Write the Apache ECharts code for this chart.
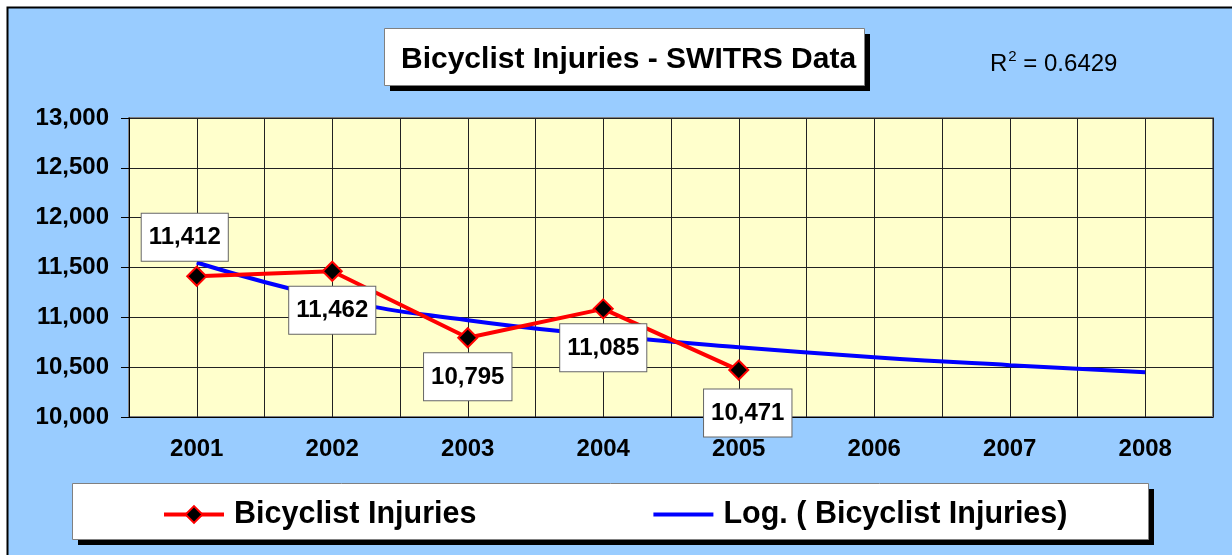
<!DOCTYPE html>
<html>
<head>
<meta charset="utf-8">
<title>Bicyclist Injuries - SWITRS Data</title>
<script src="https://cdn.jsdelivr.net/npm/echarts@6/dist/echarts.min.js"></script>
<style>
  html, body { margin: 0; padding: 0; background: #fff; }
  #chart { width: 1232px; height: 555px; }
</style>
</head>
<body>
<div id="chart"></div>
<script>
var years = ['2001', '2002', '2003', '2004', '2005', '2006', '2007', '2008']
var injuries = [11412, 11462, 10795, 11085, 10471]
// logarithmic trend line, values at each year
var logTrend = [11550, 11190, 10970, 10820, 10700, 10600, 10520, 10450]
var yTicks = { min: 10000, max: 13000, step: 500 }
var rSquared = '0.6429'

var font = '"Liberation Sans", Arial, sans-serif'

function fmt(v) {
  return String(v).replace(/\B(?=(\d{3})+(?!\d))/g, ',')
}

var chart = echarts.init(document.getElementById('chart'))

chart.setOption({
  backgroundColor: '#fff',
  animation: false,
  textStyle: { fontFamily: font },
  graphic: [
    // outer chart area
    { type: 'rect', z: -10, shape: { x: 7.5, y: 7.5, width: 1300, height: 600 },
      style: { fill: '#99ccff', stroke: '#000', lineWidth: 2 } },
    // title box + shadow
    { type: 'rect', z: 1, shape: { x: 390, y: 34, width: 480, height: 57 }, style: { fill: '#000' } },
    { type: 'rect', z: 2, shape: { x: 384.5, y: 28.5, width: 480, height: 57 },
      style: { fill: '#fff', stroke: '#808080', lineWidth: 1 } },
    // legend box + shadow
    { type: 'rect', z: 1, shape: { x: 78, y: 489, width: 1076, height: 56 }, style: { fill: '#000' } },
    { type: 'rect', z: 2, shape: { x: 72.5, y: 483.5, width: 1076, height: 56 },
      style: { fill: '#fff', stroke: '#808080', lineWidth: 1 } }
  ],
  title: [
    {
      text: 'Bicyclist Injuries - SWITRS Data',
      left: 396,
      top: 40,
      textStyle: { fontSize: 30, fontWeight: 'bold', color: '#000', fontFamily: font }
    },
    {
      text: '{a|R}{b|2}{a| = ' + rSquared + '}',
      left: 985,
      top: 44,
      textStyle: {
        rich: {
          a: { fontSize: 24, fontWeight: 'normal', color: '#000', fontFamily: font, verticalAlign: 'bottom' },
          b: { fontSize: 15, fontWeight: 'normal', color: '#000', fontFamily: font, verticalAlign: 'top', padding: [0, 0, 12, 1] }
        }
      }
    }
  ],
  legend: {
    left: 162,
    top: 499,
    padding: 0,
    itemWidth: 60,
    itemHeight: 21,
    itemGap: 177,
    lineStyle: { width: 4 },
    data: [
      { name: 'Bicyclist Injuries' },
      { name: 'Log. ( Bicyclist Injuries)', icon: 'path://M0,0H60V4H0Z' }
    ],
    textStyle: { fontSize: 30.5, fontWeight: 'bold', color: '#000', fontFamily: font, padding: [0, 0, 0, 5] }
  },
  grid: {
    left: 129,
    right: 19,
    top: 118,
    bottom: 138,
    show: true,
    backgroundColor: '#ffffcc',
    borderColor: '#808080',
    borderWidth: 2
  },
  xAxis: [
    {
      type: 'category',
      data: years,
      boundaryGap: true,
      axisLine: { lineStyle: { color: '#000', width: 1 } },
      axisTick: { length: 8, lineStyle: { color: '#000' } },
      axisLabel: { margin: 20, fontSize: 24, fontWeight: 'bold', color: '#000', fontFamily: font },
      splitLine: { show: false }
    },
    {
      // only draws the vertical gridlines (category centres and boundaries)
      type: 'value',
      position: 'top',
      min: 0,
      max: years.length * 2,
      interval: 1,
      axisLine: { show: false },
      axisTick: { show: false },
      axisLabel: { show: false },
      splitLine: { show: true, lineStyle: { color: '#222', width: 1 } }
    }
  ],
  yAxis: {
    type: 'value',
    min: yTicks.min,
    max: yTicks.max,
    interval: yTicks.step,
    axisLine: { show: true, lineStyle: { color: '#000', width: 1 } },
    axisTick: { show: true, length: 8, lineStyle: { color: '#000' } },
    axisLabel: {
      margin: 20,
      fontSize: 24,
      fontWeight: 'bold',
      color: '#000',
      fontFamily: font,
      formatter: function (v) { return fmt(v) }
    },
    splitLine: { show: true, lineStyle: { color: '#222', width: 1 } }
  },
  series: [
    {
      name: 'Bicyclist Injuries',
      type: 'line',
      z: 3,
      symbol: 'diamond',
      symbolSize: 19,
      lineStyle: { color: '#ff0000', width: 4 },
      itemStyle: { color: '#000', borderColor: '#ff0000', borderWidth: 2 },
      label: {
        show: true,
        position: 'bottom',
        distance: 5,
        formatter: function (p) { return fmt(p.value) },
        fontSize: 24,
        fontWeight: 'bold',
        color: '#000',
        fontFamily: font,
        backgroundColor: '#fff',
        borderColor: '#666',
        borderWidth: 1,
        padding: [12, 7, 11, 7]
      },
      data: injuries.map(function (v, i) {
        if (i === 0) return { value: v, label: { position: 'top', distance: 5, offset: [-12, 0] } }
        if (i === injuries.length - 1) return { value: v, label: { offset: [9, 4] } }
        return v
      })
    },
    {
      name: 'Log. ( Bicyclist Injuries)',
      type: 'line',
      z: 2,
      smooth: 0.5,
      symbol: 'none',
      showSymbol: false,
      lineStyle: { color: '#0000ff', width: 4 },
      itemStyle: { color: '#0000ff' },
      data: logTrend
    }
  ]
})
</script>
</body>
</html>
